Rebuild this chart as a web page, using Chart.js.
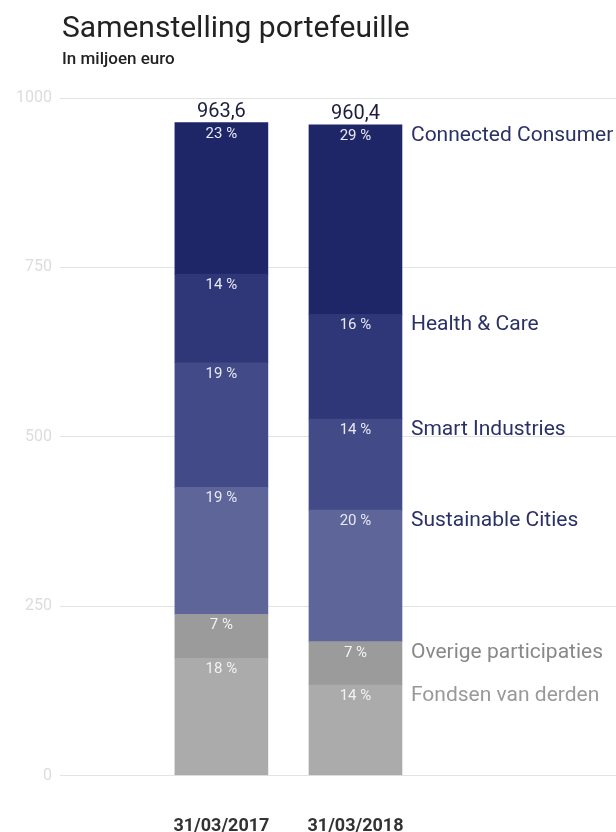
<!DOCTYPE html>
<html><head><meta charset="utf-8">
<script src="https://cdn.jsdelivr.net/npm/chart.js@4.4.0/dist/chart.umd.min.js"></script>
<style>html,body{margin:0;padding:0;background:#fff;} #wrap{width:616px;height:832px;position:relative;}</style>
</head><body><div id="wrap"><canvas id="c" width="616" height="832"></canvas></div>
<script>
// ---- data ----
const categories = ['31/03/2017', '31/03/2018'];
const totals = [963.6, 960.4];
const yTicks = [0, 250, 500, 750, 1000];
const seriesNames = ['Fondsen van derden', 'Overige participaties', 'Sustainable Cities', 'Smart Industries', 'Health & Care', 'Connected Consumer'];
const fondsenVanDerden = [173.0, 133.6];
const overigeParticipaties = [64.9, 63.9];
const sustainableCities = [187.4, 194.3];
const smartIndustries = [183.9, 134.3];
const healthCare = [130.9, 154.5];
const connectedConsumer = [223.5, 279.8];
const pctFondsen = [18, 14];
const pctOverige = [7, 7];
const pctSustainable = [19, 20];
const pctSmart = [19, 14];
const pctHealth = [14, 16];
const pctConnected = [23, 29];

const seriesValues = [fondsenVanDerden, overigeParticipaties, sustainableCities, smartIndustries, healthCare, connectedConsumer];
const seriesPct = [pctFondsen, pctOverige, pctSustainable, pctSmart, pctHealth, pctConnected];
const fillColors = ['#ababab', '#9b9b9b', '#5d6599', '#424a87', '#2f3778', '#1e2667'];
const nameColors = ['#999999', '#888888', '#2b3166', '#2b3166', '#2b3166', '#2b3166'];
const pctColors = ['#f2f2f2', '#f2f2f2', '#e8e9f3', '#e8e9f3', '#e8e9f3', '#e8e9f3'];

const datasets = seriesNames.map((name, s) => ({
  label: name,
  data: seriesValues[s].map((v, i) => ({ x: i, y: v })),
  backgroundColor: fillColors[s],
  borderWidth: 0,
  barThickness: 93,
  pct: seriesPct[s],
  pctColor: pctColors[s],
  nameColor: nameColors[s]
}));

const fmt = v => v.toFixed(1).replace('.', ',');

const textPlugin = {
  id: 'textPlugin',
  afterDraw(chart) {
    const ctx = chart.ctx;
    ctx.save();
    ctx.textAlign = 'left';
    ctx.textBaseline = 'alphabetic';
    ctx.fillStyle = '#222222';
    ctx.font = '30px Roboto';
    ctx.fillText('Samenstelling portefeuille', 62, 37);
    ctx.font = '500 17px Roboto';
    ctx.fillText('In miljoen euro', 62, 64);

    chart.data.datasets.forEach((ds, di) => {
      const meta = chart.getDatasetMeta(di);
      meta.data.forEach((bar, i) => {
        ctx.font = '15px Roboto';
        ctx.fillStyle = ds.pctColor;
        ctx.textAlign = 'center';
        ctx.fillText(ds.pct[i] + ' %', bar.x, bar.y + 15);
      });
      const last = meta.data[meta.data.length - 1];
      ctx.font = '21px Roboto';
      ctx.fillStyle = ds.nameColor;
      ctx.textAlign = 'left';
      ctx.fillText(ds.label, last.x + last.width / 2 + 9, last.y + 16);
    });
    const topMeta = chart.getDatasetMeta(chart.data.datasets.length - 1);
    topMeta.data.forEach((bar, i) => {
      ctx.font = '20px Roboto';
      ctx.fillStyle = '#1b1e3c';
      ctx.textAlign = 'center';
      ctx.fillText(fmt(totals[i]), bar.x, bar.y - 6);
    });
    ctx.restore();
  }
};

new Chart(document.getElementById('c'), {
  type: 'bar',
  data: { datasets },
  options: {
    responsive: false,
    animation: false,
    devicePixelRatio: 1,
    layout: { padding: { top: 98, right: 0, bottom: 0, left: 0 } },
    plugins: { legend: { display: false }, tooltip: { enabled: false }, title: { display: false } },
    scales: {
      x: {
        type: 'linear',
        stacked: true,
        offset: false,
        min: -1.2036,
        max: 2.943,
        grid: { display: false, offset: false },
        border: { display: false },
        afterBuildTicks: s => { s.ticks = categories.map((c, i) => ({ value: i })); },
        afterFit: s => { s.height = 56.5; },
        ticks: {
          autoSkip: false,
          maxRotation: 0,
          minRotation: 0,
          padding: 32,
          color: '#333333',
          font: { family: 'Roboto', size: 18, weight: 'bold' },
          callback: v => categories[v] !== undefined ? categories[v] : ''
        }
      },
      y: {
        stacked: true,
        min: 0,
        max: 1000,
        afterBuildTicks: s => { s.ticks = yTicks.map(v => ({ value: v })); },
        afterFit: s => { s.width = 60; },
        grid: { color: '#e3e3e3', lineWidth: 1, drawTicks: false },
        border: { display: false },
        ticks: {
          padding: 8,
          color: '#dcdcdc',
          font: { family: 'Roboto', size: 16 },
          callback: v => String(v)
        }
      }
    }
  },
  plugins: [textPlugin]
});
</script>
</body></html>
